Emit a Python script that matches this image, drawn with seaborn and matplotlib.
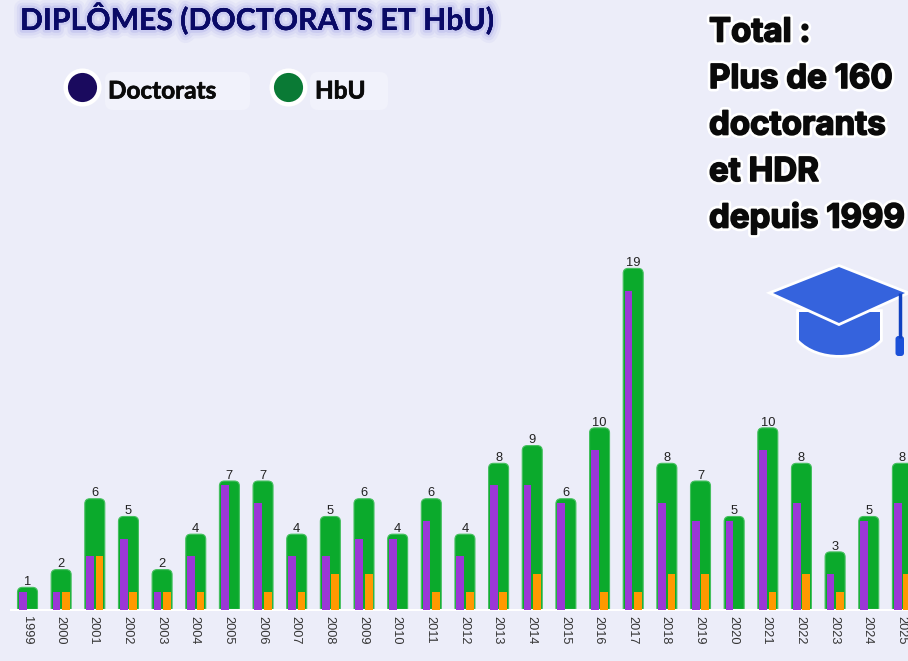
import matplotlib
matplotlib.use("Agg")
import matplotlib.pyplot as plt
import matplotlib.patheffects as pe
from matplotlib.patches import FancyBboxPatch, Polygon, PathPatch
from matplotlib.path import Path
from matplotlib.transforms import ScaledTranslation
import pandas as pd
import seaborn as sns

# -- data
years = [str(y) for y in range(1999, 2026)]
doctorats = [1, 1, 3, 4, 1, 3, 7, 6, 3, 3, 4, 4, 5, 3, 7, 7, 6, 9, 18, 6, 5, 5, 9, 6, 2, 5, 6]
hbu = [0, 1, 3, 1, 1, 1, 0, 1, 1, 2, 2, 0, 1, 1, 1, 2, 0, 1, 1, 2, 2, 0, 1, 2, 1, 0, 2]
totals = [d + h for d, h in zip(doctorats, hbu)]
info_lines = ["Total :", "Plus de 160", "doctorants", "et HDR", "depuis 1999"]

BG = "#ECEDF9"
GREEN = "#0BAA2C"
PURPLE = "#9B37D6"
ORANGE = "#FF9900"
NAVY = "#0A0A66"
CAP = "#3563DD"

sns.set_theme(style="white")
plt.rcParams["font.family"] = ["Liberation Sans", "DejaVu Sans"]

W, H = 908, 661
fig = plt.figure(figsize=(W / 100, H / 100), dpi=100, facecolor=BG)

# -- bars: baseline at y=609.5 px, 33.65 px per year, 17.72 px per unit
base_px, top_px, left_px = 609.5, 240, 11
ax = fig.add_axes([left_px / W, (H - base_px) / H, (W - left_px) / W, (base_px - top_px) / H])
ax.patch.set_alpha(0)

df = pd.DataFrame({"annee": years, "total": totals})
sns.barplot(data=df, x="annee", y="total", color=GREEN, width=0.594, saturation=1, ax=ax)

# round the top of the green bars (they stand a little above their value)
pad = 0.25
rx, ry = 0.149, 0.282
for bar in list(ax.patches):
    x, w, h = bar.get_x(), bar.get_width(), bar.get_height()
    bar.remove()
    ax.add_patch(FancyBboxPatch((x, -1), w, h + 1 + pad,
                                boxstyle=f"round,pad=0,rounding_size={rx}",
                                mutation_aspect=ry / rx,
                                fc=GREEN, ec="#45BF5F", lw=0.8, zorder=2))
    ax.text(x + w / 2, h + pad + 0.3, f"{h:.0f}", ha="center", va="center",
            fontsize=9.3, color="#222222", zorder=4)

long_df = pd.DataFrame({
    "annee": years * 2,
    "valeur": doctorats + hbu,
    "serie": ["Doctorats"] * len(years) + ["HbU"] * len(years),
})
sns.barplot(data=long_df, x="annee", y="valeur", hue="serie",
            palette={"Doctorats": PURPLE, "HbU": ORANGE},
            width=0.56, gap=0.18, saturation=1, legend=False, zorder=3,
            linewidth=0, edgecolor="none", ax=ax)

ax.set_xlim((left_px - 27.5) / 33.65, (W - 27.5) / 33.65)
ax.set_ylim(0, (base_px - top_px) / 17.72)
ax.set_xlabel("")
ax.set_ylabel("")
ax.set_yticks([])
ax.tick_params(axis="x", length=0, pad=4.8, labelsize=9.2, labelcolor="#333333")
shift = ScaledTranslation(-1 / 100, 0, fig.dpi_scale_trans)
for lab in ax.get_xticklabels():
    lab.set_rotation(-90)
    lab.set_ha("center")
    lab.set_va("top")
    lab.set_transform(lab.get_transform() + shift)
sns.despine(ax=ax, left=True)
ax.spines["bottom"].set_color("white")
ax.spines["bottom"].set_linewidth(1.5)

# -- overlay in pixel coordinates for title, legend, side text and cap
over = fig.add_axes([0, 0, 1, 1], zorder=5)
over.set_xlim(0, W)
over.set_ylim(H, 0)
over.axis("off")

title_fx = [pe.withStroke(linewidth=w, foreground="#8C8CE0", alpha=a)
            for w, a in [(12, 0.08), (8, 0.12), (4, 0.2)]] + [pe.Normal()]
over.text(20, 30, "DIPLÔMES (DOCTORATS ET HbU)", family=["Lato", "Liberation Sans"],
          fontsize=21.7, fontweight="bold", color=NAVY, ha="left", va="baseline", path_effects=title_fx)

# legend
for x0, wd in [(105, 145), (310, 78)]:
    over.add_patch(FancyBboxPatch((x0, 72), wd, 38, boxstyle="round,pad=0,rounding_size=8",
                                  fc="#F1F2FB", ec="none"))
for cx, col, lab, tx in [(82, "#1A0A5E", "Doctorats", 108), (288, "#0A7A35", "HbU", 315)]:
    over.scatter([cx], [87], s=750, c="white", linewidths=0)
    over.scatter([cx], [87], s=440, c=col, linewidths=0)
    over.text(tx, 91, lab, family=["Lato", "Liberation Sans"], fontsize=17.5,
              fontweight="bold", color="#0A0A0A", ha="left", va="center",
              path_effects=[pe.withStroke(linewidth=0.5, foreground="#0A0A0A")])

# side text
halo = [pe.withStroke(linewidth=5, foreground="white"),
        pe.withStroke(linewidth=1.2, foreground="#0A0A0A")]
for i, line in enumerate(info_lines):
    over.text(709, 41.5 + i * 46.5, line, family=["Inter", "DejaVu Sans"], fontsize=23.8, fontweight="bold",
              color="#0A0A0A", ha="left", va="baseline", path_effects=halo)

# graduation cap
cap_halo = [pe.withStroke(linewidth=4, foreground="white")]
verts = [(799, 312), (880, 312), (880, 340), (860, 360), (818, 360), (799, 340), (799, 312)]
codes = [Path.MOVETO, Path.LINETO, Path.LINETO, Path.CURVE4, Path.CURVE4, Path.CURVE4, Path.CLOSEPOLY]
over.add_patch(PathPatch(Path(verts, codes), fc=CAP, ec="none", path_effects=cap_halo))
over.add_patch(Polygon([(773, 293), (839, 267), (905, 293), (839, 323)], closed=True,
                       fc=CAP, ec="none", path_effects=cap_halo))
over.plot([900, 900], [293, 338], color="#1040C0", lw=2.5, solid_capstyle="butt")
over.add_patch(FancyBboxPatch((895.5, 336), 8.5, 20, boxstyle="round,pad=0,rounding_size=3",
                              fc="#1B50D8", ec="none"))

fig.savefig("out.png", dpi=100, facecolor=BG)
